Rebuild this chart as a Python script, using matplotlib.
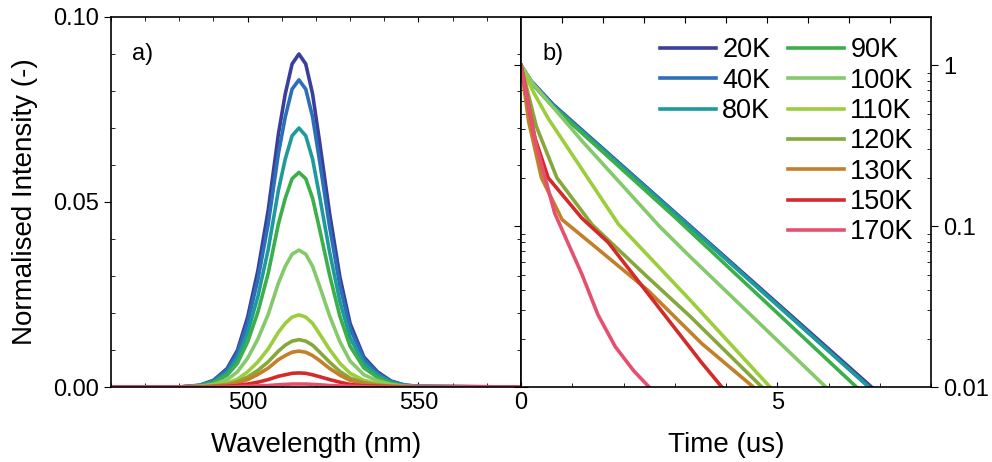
import numpy as np
import matplotlib
matplotlib.use("Agg")
import matplotlib.pyplot as plt
from matplotlib.ticker import MultipleLocator, LogLocator, NullFormatter, FixedLocator

plt.rcParams["font.family"] = ["Liberation Sans", "DejaVu Sans"]

# temperatures and colours
temps = ["20K", "40K", "80K", "90K", "100K", "110K", "120K", "130K", "150K", "170K"]
colors = ["#3a3f9c", "#2a6fb8", "#1f9a9c", "#3cae4a", "#84c96a",
          "#9ccd3c", "#86a83a", "#c47f2a", "#d42a2a", "#e6506f"]

# a) PL spectra
wavelength = [460, 480, 486, 490, 494, 497, 500, 503, 506, 509, 511, 513, 515,
              517, 519, 521, 524, 527, 530, 534, 538, 542, 546, 550, 580]
spec_20K = [0, 0, 0.0005, 0.0018, 0.0050, 0.0099, 0.0189, 0.0315, 0.0477, 0.0684,
            0.0792, 0.0873, 0.090, 0.0873, 0.0792, 0.0666, 0.0468, 0.0297, 0.0171,
            0.0081, 0.0041, 0.0016, 0.0005, 0.0002, 0]
spec_40K = [0, 0, 0.0004, 0.0017, 0.0046, 0.0091, 0.0174, 0.0291, 0.0440, 0.0631,
            0.0730, 0.0805, 0.083, 0.0805, 0.0730, 0.0614, 0.0432, 0.0274, 0.0158,
            0.0075, 0.0037, 0.0015, 0.0005, 0.0002, 0]
spec_80K = [0, 0, 0.0004, 0.0014, 0.0039, 0.0077, 0.0147, 0.0245, 0.0371, 0.0532,
            0.0616, 0.0679, 0.070, 0.0679, 0.0616, 0.0518, 0.0364, 0.0231, 0.0133,
            0.0063, 0.0032, 0.0013, 0.0004, 0.0001, 0]
spec_90K = [0, 0, 0.0003, 0.0012, 0.0032, 0.0064, 0.0122, 0.0203, 0.0307, 0.0441,
            0.0510, 0.0563, 0.058, 0.0563, 0.0510, 0.0429, 0.0302, 0.0191, 0.0110,
            0.0052, 0.0026, 0.0010, 0.0003, 0.0001, 0]
spec_100K = [0, 0, 0.0002, 0.0007, 0.0020, 0.0041, 0.0078, 0.0130, 0.0196, 0.0281,
             0.0326, 0.0359, 0.037, 0.0359, 0.0326, 0.0274, 0.0192, 0.0122, 0.0070,
             0.0033, 0.0017, 0.0007, 0.0002, 0.0001, 0]
spec_110K = [0, 0, 0.0001, 0.0004, 0.0011, 0.0021, 0.0041, 0.0068, 0.0103, 0.0148,
             0.0172, 0.0189, 0.0195, 0.0189, 0.0172, 0.0144, 0.0101, 0.0064, 0.0037,
             0.0018, 0.0009, 0.0004, 0.0001, 0, 0]
spec_120K = [0, 0, 0.0001, 0.0003, 0.0007, 0.0014, 0.0027, 0.0045, 0.0068, 0.0097,
             0.0113, 0.0124, 0.0128, 0.0124, 0.0113, 0.0095, 0.0067, 0.0042, 0.0024,
             0.0012, 0.0006, 0.0002, 0.0001, 0, 0]
spec_130K = [0, 0, 0, 0.0002, 0.0005, 0.0011, 0.0020, 0.0034, 0.0051, 0.0074,
             0.0085, 0.0094, 0.0097, 0.0094, 0.0085, 0.0072, 0.0050, 0.0032, 0.0018,
             0.0009, 0.0004, 0.0002, 0.0001, 0, 0]
spec_150K = [0, 0, 0, 0.0001, 0.0002, 0.0004, 0.0008, 0.0013, 0.0020, 0.0029,
             0.0033, 0.0037, 0.0038, 0.0037, 0.0033, 0.0028, 0.0020, 0.0013, 0.0007,
             0.0003, 0.0002, 0.0001, 0, 0, 0]
spec_170K = [0, 0, 0, 0, 0, 0.0001, 0.0002, 0.0003, 0.0004, 0.0006,
             0.0007, 0.0008, 0.0008, 0.0008, 0.0007, 0.0006, 0.0004, 0.0003, 0.0002,
             0.0001, 0, 0, 0, 0, 0]
spectra = [spec_20K, spec_40K, spec_80K, spec_90K, spec_100K,
           spec_110K, spec_120K, spec_130K, spec_150K, spec_170K]

# b) decay curves (time in us, normalised intensity)
t_20K = [0, 0.2, 0.63, 3.0, 6.95]
i_20K = [1, 0.80, 0.57, 0.122, 0.0093]
t_40K = [0, 0.2, 0.63, 3.0, 6.9]
i_40K = [1, 0.79, 0.565, 0.121, 0.0093]
t_80K = [0, 0.2, 0.63, 3.0, 6.9]
i_80K = [1, 0.79, 0.56, 0.12, 0.0093]
t_90K = [0, 0.2, 0.63, 3.0, 6.65]
i_90K = [1, 0.78, 0.55, 0.114, 0.0093]
t_100K = [0, 0.25, 1.19, 2.7, 3.3, 6.05]
i_100K = [1, 0.759, 0.339, 0.100, 0.0646, 0.0093]
t_110K = [0, 0.25, 0.53, 1.9, 3.3, 4.95]
i_110K = [1, 0.676, 0.468, 0.103, 0.0347, 0.0093]
t_120K = [0, 0.3, 0.7, 1.39, 2.48, 3.3, 4.8]
i_120K = [1, 0.417, 0.2, 0.102, 0.0479, 0.0275, 0.0093]
t_130K = [0, 0.15, 0.4, 0.8, 1.38, 2.48, 3.53, 4.65]
i_130K = [1, 0.447, 0.2, 0.110, 0.0776, 0.0398, 0.0186, 0.0093]
t_150K = [0, 0.27, 0.53, 1.19, 1.7, 2.48, 3.53, 4.0]
i_150K = [1, 0.355, 0.2, 0.112, 0.0794, 0.038, 0.0141, 0.0093]
t_170K = [0, 0.3, 0.66, 1.19, 1.5, 1.84, 2.2, 2.65]
i_170K = [1, 0.316, 0.120, 0.0501, 0.0282, 0.0178, 0.0126, 0.0089]
decay_t = [t_20K, t_40K, t_80K, t_90K, t_100K, t_110K, t_120K, t_130K, t_150K, t_170K]
decay_i = [i_20K, i_40K, i_80K, i_90K, i_100K, i_110K, i_120K, i_130K, i_150K, i_170K]

fig = plt.figure(figsize=(9.92, 4.62), dpi=100)
ax1 = fig.add_axes([111 / 992, 75 / 462, 410 / 992, 370 / 462])
ax2 = fig.add_axes([521 / 992, 75 / 462, 410 / 992, 370 / 462])

# panel a
for spec, c in zip(spectra, colors):
    ax1.plot(wavelength, spec, color=c, lw=2.6)
ax1.set_xlim(460, 580)
ax1.set_ylim(0, 0.10)
ax1.xaxis.set_major_locator(FixedLocator([500, 550]))
ax1.xaxis.set_minor_locator(MultipleLocator(10))
ax1.yaxis.set_major_locator(MultipleLocator(0.05))
ax1.yaxis.set_minor_locator(MultipleLocator(0.01))
ax1.yaxis.set_major_formatter(plt.FormatStrFormatter("%.2f"))
ax1.tick_params(which="both", direction="in", top=True, right=True, labelsize=17)
ax1.tick_params(axis="y", which="major", direction="out", length=5)
ax1.tick_params(which="minor", length=3)
ax1.set_xlabel("Wavelength (nm)", fontsize=20, labelpad=13)
ax1.set_ylabel("Normalised Intensity (-)", fontsize=20, labelpad=11)
ax1.text(0.052, 0.9, "a)", transform=ax1.transAxes, fontsize=17, va="center")

# panel b
lines = []
for t, inten, c, lab in zip(decay_t, decay_i, colors, temps):
    ln, = ax2.plot(t, inten, color=c, lw=2.6, label=lab)
    lines.append(ln)
ax2.set_yscale("log")
ax2.set_xlim(0, 8)
ax2.set_ylim(0.01, 2)
ax2.xaxis.set_major_locator(FixedLocator([0, 5]))
ax2.xaxis.set_minor_locator(MultipleLocator(1))
ax2.yaxis.set_major_locator(LogLocator(base=10))
ax2.yaxis.set_minor_locator(LogLocator(base=10, subs=np.arange(2, 10)))
ax2.yaxis.set_minor_formatter(NullFormatter())
ax2.yaxis.set_major_formatter(plt.FuncFormatter(lambda v, p: "%g" % v))
ax2.tick_params(which="both", direction="in", left=True, right=True,
                labelleft=False, labelright=True, labelsize=17)
ax2.tick_params(which="minor", length=3)
ax2.tick_params(axis="y", which="major", direction="out", length=5)
top = ax2.secondary_xaxis("top")
top.set_xticks(np.arange(0.8, 8, 0.8))
top.set_xticklabels([])
top.tick_params(direction="in", length=4)
ax2.set_xlabel("Time (us)", fontsize=20, labelpad=13)
ax2.text(0.052, 0.9, "b)", transform=ax2.transAxes, fontsize=17, va="center")

leg_kw = dict(frameon=False, fontsize=19.5, handlelength=2.05, handletextpad=0.25,
              labelspacing=0.16, borderpad=0, borderaxespad=0, loc="upper left")
leg1 = ax2.legend(lines[:3], temps[:3], bbox_to_anchor=(139 / 410, 0.945), **leg_kw)
ax2.add_artist(leg1)
ax2.legend(lines[3:], temps[3:], bbox_to_anchor=(267 / 410, 0.945), **leg_kw)

for ax in (ax1, ax2):
    for s in ax.spines.values():
        s.set_linewidth(1.2)

fig.savefig("out.png", dpi=100)
